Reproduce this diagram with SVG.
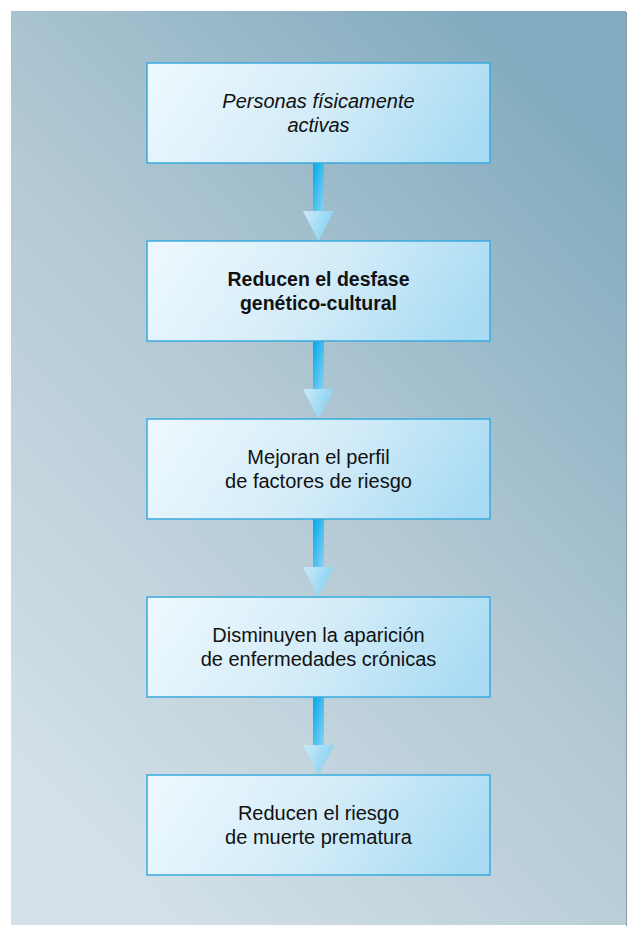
<svg xmlns="http://www.w3.org/2000/svg" width="627" height="926" viewBox="0 0 627 926">
  <style>
    .box { stroke: #3aaade; stroke-width: 1.5; fill: url(#boxFill); }
    .lbl { font-family: "Liberation Sans", Arial, sans-serif; font-size: 20px; fill: #111; text-anchor: middle; }
    .it { font-style: italic; }
    .bd { font-weight: bold; font-size: 19.5px; }
  </style>
  <defs>
    <linearGradient id="panelFill" gradientUnits="userSpaceOnUse" x1="11" y1="760" x2="626" y2="160">
      <stop offset="0" stop-color="#d3e0e7"/>
      <stop offset="0.5" stop-color="#b3c9d4"/>
      <stop offset="1" stop-color="#82abbf"/>
    </linearGradient>
    <linearGradient id="boxFill" x1="0" y1="0.4" x2="1" y2="0.6">
      <stop offset="0" stop-color="#ebf7fd"/>
      <stop offset="0.5" stop-color="#d3ecf8"/>
      <stop offset="1" stop-color="#a8dbf3"/>
    </linearGradient>
    <linearGradient id="shaftFill" x1="0" y1="0" x2="1" y2="1">
      <stop offset="0" stop-color="#00a8ea"/>
      <stop offset="1" stop-color="#8ad3f3"/>
    </linearGradient>
    <linearGradient id="headFill" x1="0" y1="0" x2="1" y2="0.4">
      <stop offset="0" stop-color="#cdebf9"/>
      <stop offset="1" stop-color="#88d1f2"/>
    </linearGradient>
    <g id="arrow">
      <rect x="313" y="0" width="11" height="48.5" fill="url(#shaftFill)"/>
      <polygon points="303,48 334,48 318.5,78" fill="url(#headFill)"/>
    </g>
  </defs>

  <rect x="626" y="12" width="1" height="914" fill="#8a9aa2"/>
  <rect x="11" y="11" width="615" height="914" fill="url(#panelFill)"/>

  <g id="connectors">
    <use href="#arrow" transform="translate(0,163)"/>
    <use href="#arrow" transform="translate(0,341)"/>
    <use href="#arrow" transform="translate(0,519)"/>
    <use href="#arrow" transform="translate(0,697)"/>
  </g>

  <g id="node1">
    <rect class="box" x="147" y="63" width="343" height="100"/>
    <text class="lbl it" x="318.5" y="108">Personas físicamente</text>
    <text class="lbl it" x="318.5" y="132">activas</text>
  </g>
  <g id="node2">
    <rect class="box" x="147" y="241" width="343" height="100"/>
    <text class="lbl bd" x="318.5" y="285.5">Reducen el desfase</text>
    <text class="lbl bd" x="318.5" y="309.5">genético-cultural</text>
  </g>
  <g id="node3">
    <rect class="box" x="147" y="419" width="343" height="100"/>
    <text class="lbl" x="318.5" y="463.5">Mejoran el perfil</text>
    <text class="lbl" x="318.5" y="487.5">de factores de riesgo</text>
  </g>
  <g id="node4">
    <rect class="box" x="147" y="597" width="343" height="100"/>
    <text class="lbl" x="318.5" y="641.5">Disminuyen la aparición</text>
    <text class="lbl" x="318.5" y="665.5">de enfermedades crónicas</text>
  </g>
  <g id="node5">
    <rect class="box" x="147" y="775" width="343" height="100"/>
    <text class="lbl" x="318.5" y="819.5">Reducen el riesgo</text>
    <text class="lbl" x="318.5" y="843.5">de muerte prematura</text>
  </g>
</svg>
